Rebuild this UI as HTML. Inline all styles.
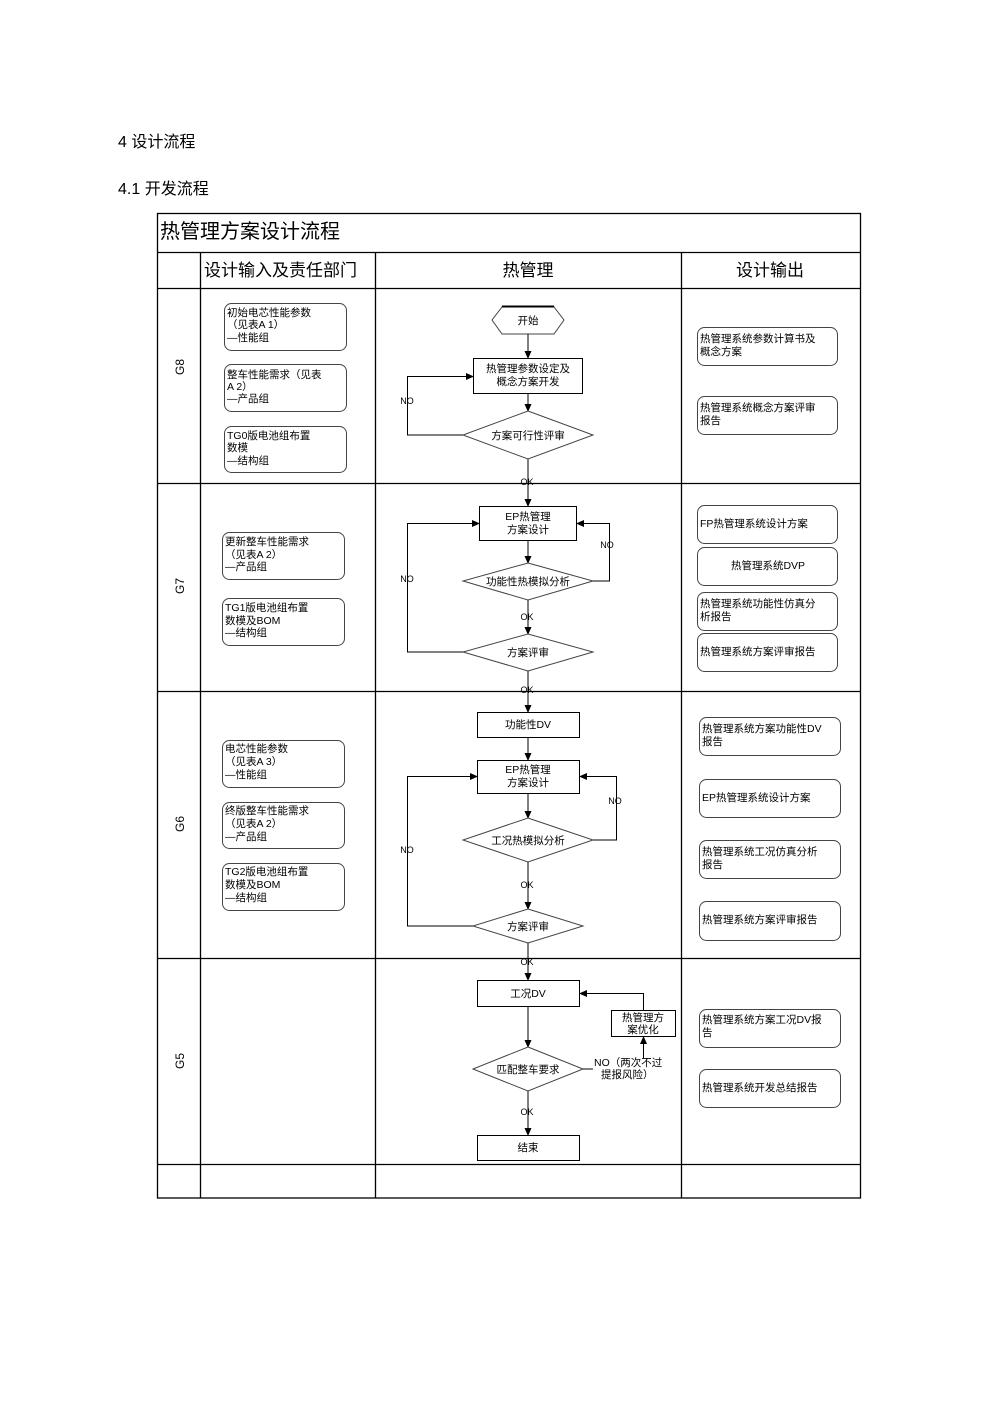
<!DOCTYPE html>
<html><head><meta charset="utf-8"><style>
html,body{margin:0;padding:0;background:#fff;}
svg{display:block;}
text{font-family:"Liberation Sans","Noto Sans CJK SC",sans-serif;fill:#000;}
.s{font-size:10.5px;}
.l{stroke:#000;stroke-width:1;fill:none;}
.b{stroke:#000;stroke-width:1;fill:#fff;}
.g{stroke:#444;stroke-width:1;fill:#fff;}
.t{stroke:#000;stroke-width:1.3;}
</style></head><body>
<svg width="992" height="1403" viewBox="0 0 992 1403" xmlns="http://www.w3.org/2000/svg">
<defs><marker id="a" markerWidth="8" markerHeight="8" refX="7" refY="4" orient="auto" markerUnits="userSpaceOnUse"><path d="M0,0.5 L8,4 L0,7.5z" fill="#000"/></marker></defs>
<text x="118" y="147" style="font-size:16px">4 设计流程</text>
<text x="118" y="194" style="font-size:16px">4.1 开发流程</text>
<!-- table -->
<rect x="157.5" y="213.5" width="703" height="984.5" class="l t"/>
<g class="t">
<line x1="157" y1="252.5" x2="861" y2="252.5"/>
<line x1="157" y1="288.5" x2="861" y2="288.5"/>
<line x1="157" y1="483.5" x2="861" y2="483.5"/>
<line x1="157" y1="691.5" x2="861" y2="691.5"/>
<line x1="157" y1="958.5" x2="861" y2="958.5"/>
<line x1="157" y1="1164.5" x2="861" y2="1164.5"/>
<line x1="200.5" y1="252" x2="200.5" y2="1198"/>
<line x1="375.5" y1="252" x2="375.5" y2="1198"/>
<line x1="681.5" y1="252" x2="681.5" y2="1198"/>
</g>
<text x="160" y="238" style="font-size:20px">热管理方案设计流程</text>
<text x="204" y="276" style="font-size:17px">设计输入及责任部门</text>
<text x="528" y="276" style="font-size:17px" text-anchor="middle">热管理</text>
<text x="770" y="276" style="font-size:17px" text-anchor="middle">设计输出</text>
<g style="font-size:12px">
<text transform="translate(184,367) rotate(-90)" text-anchor="middle">G8</text>
<text transform="translate(184,586) rotate(-90)" text-anchor="middle">G7</text>
<text transform="translate(184,824) rotate(-90)" text-anchor="middle">G6</text>
<text transform="translate(184,1061) rotate(-90)" text-anchor="middle">G5</text>
</g>
<!-- left inputs -->
<g class="s">
<rect x="224.5" y="303.5" width="122" height="47" rx="7" class="g"/>
<text x="227" y="316">初始电芯性能参数</text><text x="227" y="328">（见表A 1）</text><text x="227" y="341">—性能组</text>
<rect x="224.5" y="364.5" width="122" height="47" rx="7" class="g"/>
<text x="227" y="378">整车性能需求（见表</text><text x="227" y="390">A 2）</text><text x="227" y="402">—产品组</text>
<rect x="224.5" y="426.5" width="122" height="46" rx="7" class="g"/>
<text x="227" y="439">TG0版电池组布置</text><text x="227" y="451">数模</text><text x="227" y="464">—结构组</text>
<rect x="222.5" y="532.5" width="122" height="47" rx="7" class="g"/>
<text x="225" y="545">更新整车性能需求</text><text x="225" y="558">（见表A 2）</text><text x="225" y="570">—产品组</text>
<rect x="222.5" y="598.5" width="122" height="47" rx="7" class="g"/>
<text x="225" y="611">TG1版电池组布置</text><text x="225" y="624">数模及BOM</text><text x="225" y="636">—结构组</text>
<rect x="222.5" y="740.5" width="122" height="47" rx="7" class="g"/>
<text x="225" y="752">电芯性能参数</text><text x="225" y="765">（见表A 3）</text><text x="225" y="778">—性能组</text>
<rect x="222.5" y="802.5" width="122" height="46" rx="7" class="g"/>
<text x="225" y="814">终版整车性能需求</text><text x="225" y="827">（见表A 2）</text><text x="225" y="840">—产品组</text>
<rect x="222.5" y="863.5" width="122" height="47" rx="7" class="g"/>
<text x="225" y="875">TG2版电池组布置</text><text x="225" y="888">数模及BOM</text><text x="225" y="901">—结构组</text>
</g>
<!-- right outputs -->
<g class="s">
<rect x="697.5" y="327.5" width="140" height="38" rx="7" class="g"/>
<text x="700" y="342">热管理系统参数计算书及</text><text x="700" y="355">概念方案</text>
<rect x="697.5" y="396.5" width="140" height="38" rx="7" class="g"/>
<text x="700" y="411">热管理系统概念方案评审</text><text x="700" y="424">报告</text>
<rect x="697.5" y="505.5" width="140" height="38" rx="7" class="g"/>
<text x="700" y="527">FP热管理系统设计方案</text>
<rect x="697.5" y="547.5" width="140" height="38" rx="7" class="g"/>
<text x="768" y="569" text-anchor="middle">热管理系统DVP</text>
<rect x="697.5" y="592.5" width="140" height="38" rx="7" class="g"/>
<text x="700" y="607">热管理系统功能性仿真分</text><text x="700" y="620">析报告</text>
<rect x="697.5" y="633.5" width="140" height="38" rx="7" class="g"/>
<text x="700" y="655">热管理系统方案评审报告</text>
<rect x="699.5" y="717.5" width="141" height="38" rx="7" class="g"/>
<text x="702" y="732">热管理系统方案功能性DV</text><text x="702" y="745">报告</text>
<rect x="699.5" y="779.5" width="141" height="38" rx="7" class="g"/>
<text x="702" y="801">EP热管理系统设计方案</text>
<rect x="699.5" y="840.5" width="141" height="38" rx="7" class="g"/>
<text x="702" y="855">热管理系统工况仿真分析</text><text x="702" y="868">报告</text>
<rect x="699.5" y="901.5" width="141" height="39" rx="7" class="g"/>
<text x="702" y="923">热管理系统方案评审报告</text>
<rect x="699.5" y="1009.5" width="141" height="38" rx="7" class="g"/>
<text x="702" y="1023">热管理系统方案工况DV报</text><text x="702" y="1036">告</text>
<rect x="699.5" y="1069.5" width="141" height="38" rx="7" class="g"/>
<text x="702" y="1091">热管理系统开发总结报告</text>
</g>
<!-- flow -->
<g class="s">
<!-- G8 -->
<polygon points="502,307 554,307 564,320 554,334 502,334 492,320" class="g"/>
<line x1="502" y1="306.5" x2="554" y2="306.5" stroke="#000" stroke-width="2"/>
<text x="528" y="324" text-anchor="middle">开始</text>
<line x1="528" y1="334" x2="528" y2="358" class="l" marker-end="url(#a)"/>
<rect x="473.5" y="358.5" width="109" height="35" class="b"/>
<text x="528" y="372" text-anchor="middle">热管理参数设定及</text><text x="528" y="385" text-anchor="middle">概念方案开发</text>
<line x1="528" y1="393" x2="528" y2="411" class="l" marker-end="url(#a)"/>
<polygon points="528,411 593,435 528,459 463,435" class="g"/>
<text x="528" y="439" text-anchor="middle">方案可行性评审</text>
<polyline points="463,435 407.5,435 407.5,376.5 473,376.5" class="l" marker-end="url(#a)"/>
<text x="407" y="404" text-anchor="middle" style="font-size:9px">NO</text>
<line x1="528" y1="459" x2="528" y2="506" class="l" marker-end="url(#a)"/>
<text x="527" y="485" text-anchor="middle" style="font-size:9px">OK</text>
<!-- G7 -->
<rect x="479.5" y="506.5" width="97" height="34" class="b"/>
<text x="528" y="520" text-anchor="middle">EP热管理</text><text x="528" y="533" text-anchor="middle">方案设计</text>
<line x1="528" y1="540" x2="528" y2="563" class="l" marker-end="url(#a)"/>
<polygon points="528,563 593,581 528,600 463,581" class="g"/>
<text x="528" y="585" text-anchor="middle">功能性热模拟分析</text>
<polyline points="593,581 609.5,581 609.5,523.5 577,523.5" class="l" marker-end="url(#a)"/>
<text x="607" y="548" text-anchor="middle" style="font-size:9px">NO</text>
<line x1="528" y1="600" x2="528" y2="634" class="l" marker-end="url(#a)"/>
<text x="527" y="620" text-anchor="middle" style="font-size:9px">OK</text>
<polygon points="528,634 593,652 528,671 463,652" class="g"/>
<text x="528" y="656" text-anchor="middle">方案评审</text>
<polyline points="463,652 407.5,652 407.5,523.5 479,523.5" class="l" marker-end="url(#a)"/>
<text x="407" y="582" text-anchor="middle" style="font-size:9px">NO</text>
<line x1="528" y1="671" x2="528" y2="712" class="l" marker-end="url(#a)"/>
<text x="527" y="693" text-anchor="middle" style="font-size:9px">OK</text>
<!-- G6 -->
<rect x="477.5" y="712.5" width="102" height="25" class="b"/>
<text x="528" y="728" text-anchor="middle">功能性DV</text>
<line x1="528" y1="737" x2="528" y2="760" class="l" marker-end="url(#a)"/>
<rect x="477.5" y="760.5" width="102" height="33" class="b"/>
<text x="528" y="773" text-anchor="middle">EP热管理</text><text x="528" y="786" text-anchor="middle">方案设计</text>
<line x1="528" y1="793" x2="528" y2="818" class="l" marker-end="url(#a)"/>
<polygon points="528,818 593,840 528,862 463,840" class="g"/>
<text x="528" y="844" text-anchor="middle">工况热模拟分析</text>
<polyline points="593,840 616.5,840 616.5,776.5 580,776.5" class="l" marker-end="url(#a)"/>
<text x="615" y="804" text-anchor="middle" style="font-size:9px">NO</text>
<line x1="528" y1="862" x2="528" y2="909" class="l" marker-end="url(#a)"/>
<text x="527" y="888" text-anchor="middle" style="font-size:9px">OK</text>
<polygon points="528,909 583,926 528,943 473,926" class="g"/>
<text x="528" y="930" text-anchor="middle">方案评审</text>
<polyline points="473,926 407.5,926 407.5,776.5 477,776.5" class="l" marker-end="url(#a)"/>
<text x="407" y="853" text-anchor="middle" style="font-size:9px">NO</text>
<line x1="528" y1="943" x2="528" y2="980" class="l" marker-end="url(#a)"/>
<text x="527" y="965" text-anchor="middle" style="font-size:9px">OK</text>
<!-- G5 -->
<rect x="477.5" y="980.5" width="102" height="26" class="b"/>
<text x="528" y="997" text-anchor="middle">工况DV</text>
<line x1="528" y1="1006" x2="528" y2="1047" class="l" marker-end="url(#a)"/>
<polygon points="528,1047 583,1069 528,1091 473,1069" class="g"/>
<text x="528" y="1073" text-anchor="middle">匹配整车要求</text>
<line x1="583" y1="1069" x2="593" y2="1069" class="l"/>
<text x="594" y="1066">NO（两次不过</text><text x="601" y="1078">提报风险）</text>
<line x1="643.5" y1="1058" x2="643.5" y2="1037" class="l" marker-end="url(#a)"/>
<rect x="611.5" y="1010.5" width="64" height="26" class="b"/>
<text x="643" y="1021" text-anchor="middle">热管理方</text><text x="643" y="1033" text-anchor="middle">案优化</text>
<polyline points="643.5,1010 643.5,993.5 580,993.5" class="l" marker-end="url(#a)"/>
<line x1="528" y1="1091" x2="528" y2="1135" class="l" marker-end="url(#a)"/>
<text x="527" y="1115" text-anchor="middle" style="font-size:9px">OK</text>
<rect x="477.5" y="1135.5" width="102" height="25" class="b"/>
<text x="528" y="1151" text-anchor="middle">结束</text>
</g>
</svg>
</body></html>
